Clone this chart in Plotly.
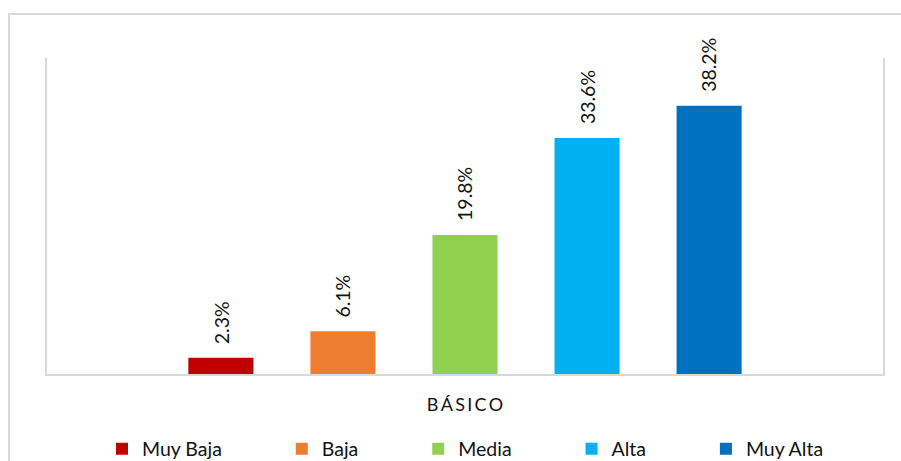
import plotly.graph_objects as go

# Distribution of levels for the single group
category = ["B\u2009Á\u2009S\u2009I\u2009C\u2009O"]
levels = ["Muy Baja", "Baja", "Media", "Alta", "Muy Alta"]
percentages = [2.3, 6.1, 19.8, 33.6, 38.2]
colors = ["#C00000", "#ED7D31", "#92D050", "#00B0F0", "#0070C0"]

FONT = "Lato"
TEXT_COLOR = "#111111"
GRID_GRAY = "#D9D9D9"
BARGAP = 0.27
BARGROUPGAP = 0.467
PAD = "\u00a0" * 11  # extra room between legend entries

fig = go.Figure()
for name, val, col in zip(levels, percentages, colors):
    fig.add_trace(go.Bar(
        x=category, y=[val], name=name + PAD,
        marker=dict(color=col, line=dict(width=0)),
        hoverinfo="skip",
    ))

# Value labels, rotated, above each bar in the group
n = len(levels)
slot = (1 - BARGAP) / n
for i, val in enumerate(percentages):
    fig.add_annotation(
        x=(i - (n - 1) / 2) * slot, y=val, xref="x", yref="y",
        text=f"{val:.1f}%", textangle=-90, showarrow=False,
        xanchor="center", yanchor="bottom", yshift=12,
        font=dict(family=FONT, size=19.5, color=TEXT_COLOR),
    )

# Outer chart frame
fig.add_shape(type="rect", xref="paper", yref="paper",
              x0=(9 - 47) / 836, x1=(920 - 47) / 836,
              y0=(374 - 480) / 316, y1=(374 - 14) / 316,
              line=dict(color=GRID_GRAY, width=2), fillcolor="rgba(0,0,0,0)",
              layer="below")

fig.update_layout(
    width=901, height=461,
    margin=dict(l=47, r=18, t=58, b=87),
    paper_bgcolor="white", plot_bgcolor="white",
    barmode="group", bargap=BARGAP, bargroupgap=BARGROUPGAP,
    font=dict(family=FONT, size=19.5, color=TEXT_COLOR),
    showlegend=True,
    legend=dict(
        orientation="h", xref="container", yref="container",
        x=102 / 901, y=1 - 449 / 461, xanchor="left", yanchor="middle",
        font=dict(family=FONT, size=19.5, color=TEXT_COLOR),
        bgcolor="rgba(0,0,0,0)", borderwidth=0,
    ),
    xaxis=dict(
        type="category", range=[-0.5, 0.5],
        showline=True, linecolor=GRID_GRAY, linewidth=2,
        showgrid=False, ticks="", ticklabelstandoff=13,
        tickfont=dict(family=FONT, size=18, color=TEXT_COLOR),
        zeroline=False, fixedrange=True,
    ),
    yaxis=dict(
        range=[0, 45], showline=True, mirror=True,
        linecolor=GRID_GRAY, linewidth=2,
        showgrid=False, showticklabels=False, ticks="",
        zeroline=False, fixedrange=True,
    ),
)

fig.write_html("out.html")
